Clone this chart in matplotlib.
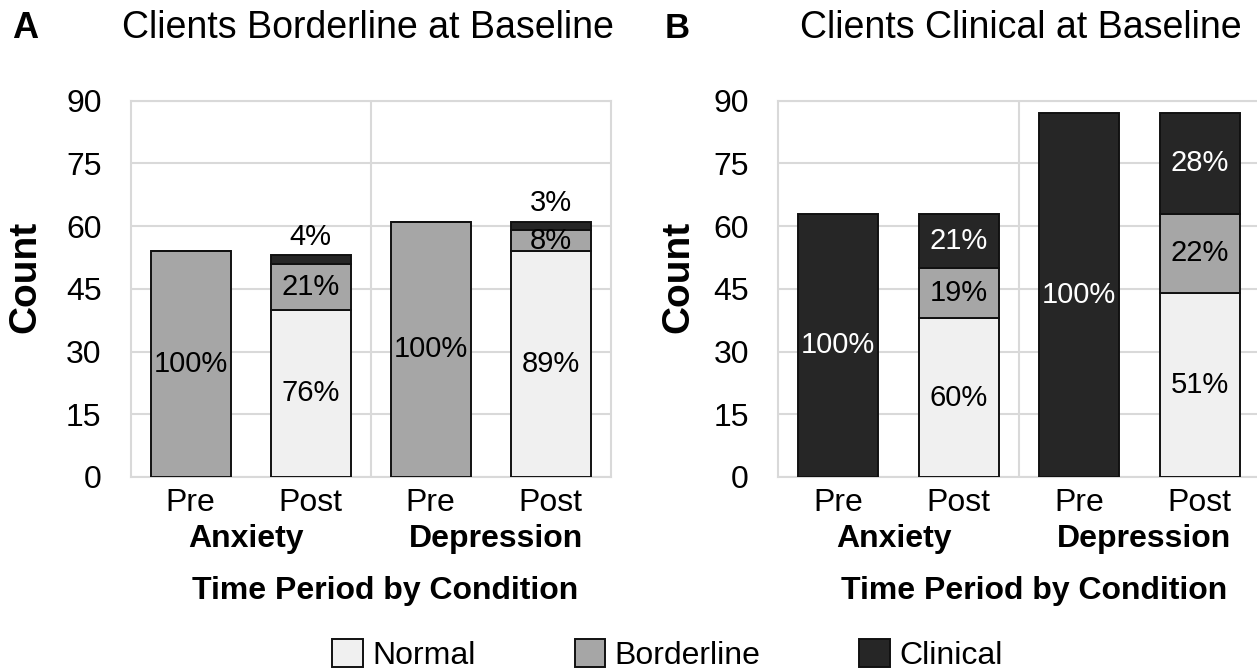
import numpy as np
import matplotlib.pyplot as plt
from matplotlib.patches import Patch
from matplotlib.transforms import blended_transform_factory

plt.rcParams['font.family'] = ['Liberation Sans', 'DejaVu Sans']

# bars: Anxiety Pre, Anxiety Post, Depression Pre, Depression Post
tick_labels = ['Pre', 'Post', 'Pre', 'Post']
conditions = ['Anxiety', 'Depression']

# A: clients borderline at baseline (counts)
a_normal = [0, 40, 0, 54]
a_borderline = [54, 11, 61, 5]
a_clinical = [0, 2, 0, 2]
a_pct_normal = ['', '76%', '', '89%']
a_pct_borderline = ['100%', '21%', '100%', '8%']
a_pct_clinical = ['', '4%', '', '3%']

# B: clients clinical at baseline (counts)
b_normal = [0, 38, 0, 44]
b_borderline = [0, 12, 0, 19]
b_clinical = [63, 13, 87, 24]
b_pct_normal = ['', '60%', '', '51%']
b_pct_borderline = ['', '19%', '', '22%']
b_pct_clinical = ['100%', '21%', '100%', '28%']

categories = ['Normal', 'Borderline', 'Clinical']
colors = ['#f0f0f0', '#a6a6a6', '#262626']
text_colors = ['black', 'black', 'white']
grid_col = '#d9d9d9'

W, H = 1257, 672
fig = plt.figure(figsize=(W / 100, H / 100), dpi=100)

ax_a = fig.add_axes([130.7 / W, 1 - 477 / H, 480 / W, 376.3 / H])
ax_b = fig.add_axes([778 / W, 1 - 477 / H, 482 / W, 376.3 / H])


def draw_panel(ax, series, pcts):
    x = np.arange(len(tick_labels))
    bottom = np.zeros(len(x))
    for vals, labs, col, tcol in zip(series, pcts, colors, text_colors):
        vals = np.array(vals, dtype=float)
        ax.bar(x, vals, bottom=bottom, width=0.667, color=col,
               edgecolor='#111111', linewidth=1.4, zorder=3)
        for xi, v, b, lab in zip(x, vals, bottom, labs):
            if not lab:
                continue
            if v < 3 and col == colors[2]:
                # small clinical slice: label sits above the bar
                ax.text(xi, b + v + 1.1, lab, ha='center', va='bottom',
                        fontsize=21, color='black', zorder=4)
            else:
                ax.text(xi, b + v / 2, lab, ha='center', va='center',
                        fontsize=21, color=tcol, zorder=4)
        bottom += vals

    ax.set_xlim(-0.5, 3.5)
    ax.set_ylim(0, 90)
    ax.set_yticks(np.arange(0, 91, 15))
    ax.set_xticks(x)
    ax.set_xticklabels(tick_labels)
    ax.tick_params(axis='both', length=0, labelsize=23)
    ax.tick_params(axis='y', pad=21)
    ax.tick_params(axis='x', pad=8)
    ax.grid(axis='y', color=grid_col, linewidth=1.5, zorder=0)
    ax.axvline(1.5, color=grid_col, linewidth=1.5, zorder=0)
    for s in ax.spines.values():
        s.set_color(grid_col)
        s.set_linewidth(1.5)

    tr = blended_transform_factory(ax.transData, ax.transAxes)
    for xc, cond in zip([0.46, 2.54], conditions):
        ax.text(xc, -0.165, cond, transform=tr, ha='center',
                va='center', fontsize=23, fontweight='bold')
    ax.text(0.531, -0.303, 'Time Period by Condition', transform=ax.transAxes,
            ha='center', va='center', fontsize=23, fontweight='bold')


draw_panel(ax_a, [a_normal, a_borderline, a_clinical],
           [a_pct_normal, a_pct_borderline, a_pct_clinical])
draw_panel(ax_b, [b_normal, b_borderline, b_clinical],
           [b_pct_normal, b_pct_borderline, b_pct_clinical])

# panel letters, titles, y labels
fig.text(12 / W, 1 - 28 / H, 'A', fontsize=26, fontweight='bold', ha='left', va='center')
fig.text(665 / W, 1 - 28 / H, 'B', fontsize=25, fontweight='bold', ha='left', va='center')
fig.text(122 / W, 1 - 28 / H, 'Clients Borderline at Baseline', fontsize=27,
         ha='left', va='center')
fig.text(800 / W, 1 - 28 / H, 'Clients Clinical at Baseline', fontsize=27,
         ha='left', va='center')
fig.text(25 / W, 1 - 277 / H, 'Count', rotation=90, fontsize=28,
         fontweight='bold', ha='center', va='center')
fig.text(678 / W, 1 - 277 / H, 'Count', rotation=90, fontsize=28,
         fontweight='bold', ha='center', va='center')

handles = [Patch(facecolor=c, edgecolor='#111111', linewidth=1.4) for c in colors]
fig.legend(handles, categories, loc='center', bbox_to_anchor=(0.531, 1 - 655 / H),
           ncol=3, frameon=False, fontsize=23, handlelength=0.95, handleheight=0.95,
           handletextpad=0.3, columnspacing=3.1)

fig.savefig('out.png', dpi=100)
